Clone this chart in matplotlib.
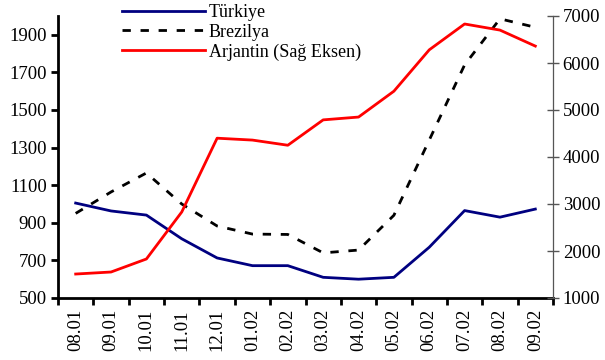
import numpy as np
import matplotlib.pyplot as plt

plt.rcParams['font.family'] = ['Liberation Serif', 'DejaVu Serif']

months = ['08.01', '09.01', '10.01', '11.01', '12.01', '01.02', '02.02',
          '03.02', '04.02', '05.02', '06.02', '07.02', '08.02', '09.02']
turkiye = [1005, 963, 941, 815, 713, 672, 672, 610, 600, 610, 770, 965, 930, 973]
brezilya = [950, 1064, 1165, 1000, 883, 840, 838, 740, 755, 940, 1340, 1740, 1985, 1940]
arjantin = [1510, 1553, 1830, 2830, 4400, 4360, 4250, 4790, 4850, 5400, 6280, 6830, 6700, 6360]

fig = plt.figure(figsize=(6.05, 3.6), dpi=100)
ax = fig.add_axes([58/605, 1-298/360, (553-58)/605, (298-16)/360])
ax2 = ax.twinx()

x = np.arange(len(months))
l1, = ax.plot(x, turkiye, color='#000080', lw=2)
l2, = ax.plot(x, brezilya, color='black', lw=2, dashes=(3, 3.5))
l3, = ax2.plot(x, arjantin, color='red', lw=2)

ax.set_xlim(-0.5, len(months) - 0.5)
ax.set_ylim(500, 2000)
ax2.set_ylim(1000, 7000)
ax.set_yticks(np.arange(500, 2000, 200))
ax2.set_yticks(np.arange(1000, 7001, 1000))

ax.set_xticks(np.arange(-0.5, len(months)), labels=[])
ax.set_xticks(x, labels=months, minor=True, rotation=90)
ax.tick_params(axis='x', which='major', direction='out', length=5, width=2)
ax.tick_params(axis='x', which='minor', length=0, pad=8, labelsize=13.5)
ax.tick_params(axis='y', direction='out', length=5, width=2, labelsize=13.5, pad=3)
ax2.tick_params(axis='y', direction='inout', length=8, width=1, color='#555555',
                labelsize=13.5, pad=3)

for a in (ax, ax2):
    a.spines['top'].set_visible(False)
ax.spines['left'].set_linewidth(2)
ax.spines['bottom'].set_linewidth(2)
ax2.spines['left'].set_visible(False)
ax2.spines['bottom'].set_visible(False)
ax2.spines['right'].set_color('#555555')

fig.legend([l1, l2, l3], ['Türkiye', 'Brezilya', 'Arjantin (Sağ Eksen)'],
           loc='upper left', bbox_to_anchor=(122/605, 1 - 4/360), frameon=False,
           fontsize=13, handlelength=4.6, handletextpad=0.2, labelspacing=0.15,
           borderaxespad=0, borderpad=0)

fig.savefig('out.png', dpi=100)
